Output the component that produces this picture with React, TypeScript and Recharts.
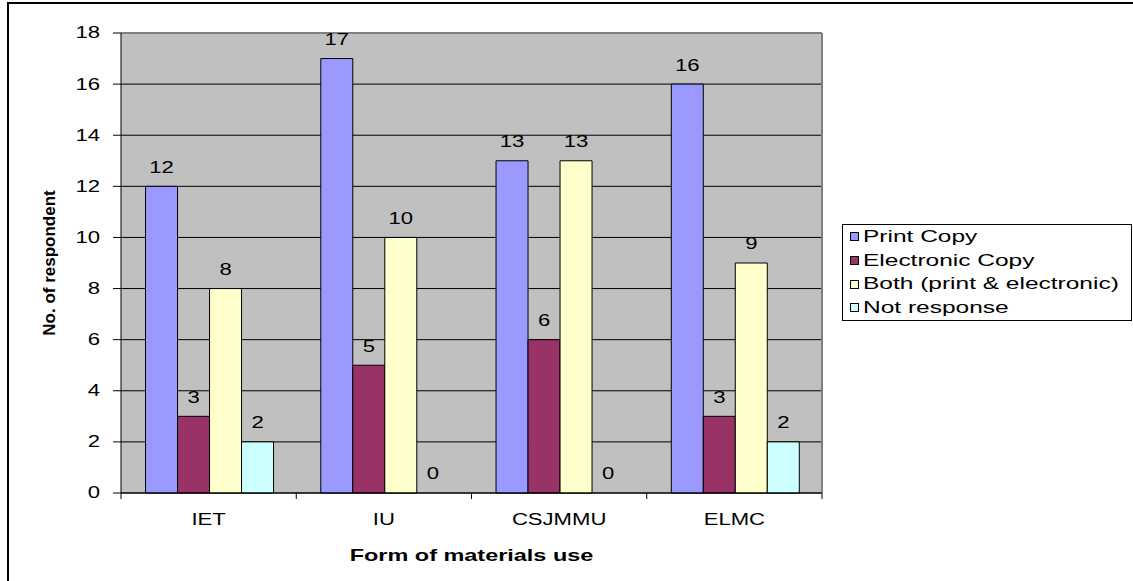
import React from 'react';
import { BarChart, Bar, XAxis, YAxis, CartesianGrid, LabelList, Cell } from 'recharts';

const categories = ['IET', 'IU', 'CSJMMU', 'ELMC'];
const printCopy = [12, 17, 13, 16];
const electronicCopy = [3, 5, 6, 3];
const bothCopy = [8, 10, 13, 9];
const notResponse = [2, 0, 0, 2];
const yTicks = [0, 2, 4, 6, 8, 10, 12, 14, 16, 18];
const seriesNames = ['Print Copy', 'Electronic Copy', 'Both (print & electronic)', 'Not response'];
const seriesKeys = ['print', 'electronic', 'both', 'none'];
const seriesValues = [printCopy, electronicCopy, bothCopy, notResponse];
const seriesColors = ['#9999FF', '#993366', '#FFFFCC', '#CCFFFF'];

const data = categories.map((c, i) => ({
  name: c,
  print: printCopy[i],
  electronic: electronicCopy[i],
  both: bothCopy[i],
  none: notResponse[i],
}));

const W = 1133;
const H = 581;
const M = { top: 33, right: 311, bottom: 28, left: 61 };
const YW = 60;
const XH = 60;
const PLOT_W = W - M.left - M.right - YW;
const FONT = '"Liberation Sans", Arial, sans-serif';
const SX = 1.38;

function StretchText({ x, y, anchor = 'middle', size = 15, bold = false, children }: any) {
  return (
    <g transform={`translate(${x},${y}) scale(${SX},1)`}>
      <text
        x={0}
        y={0}
        textAnchor={anchor}
        dominantBaseline="central"
        fontSize={size}
        fontFamily={FONT}
        fontWeight={bold ? 'bold' : 'normal'}
        fill="#000"
      >
        {children}
      </text>
    </g>
  );
}

function YTick(props: any) {
  const { x, y, payload } = props;
  return <StretchText x={x} y={y} anchor="end" size={16}>{payload.value}</StretchText>;
}

function XTick(props: any) {
  const { x, y, payload, index } = props;
  const band = PLOT_W / categories.length;
  const left = x - band / 2;
  const right = x + band / 2;
  return (
    <g>
      <line x1={left} y1={y} x2={left} y2={y + 6} stroke="#000" strokeWidth={1} />
      {index === categories.length - 1 && (
        <line x1={right} y1={y} x2={right} y2={y + 6} stroke="#000" strokeWidth={1} />
      )}
      <StretchText x={x} y={y + 27} size={16}>{payload.value}</StretchText>
    </g>
  );
}

function ValueLabel(props: any) {
  const { x, y, width, height, value } = props;
  const isZero = Number(value) === 0;
  const yy = isZero ? Number(y) + Number(height) : Number(y);
  return <StretchText x={Number(x) + Number(width) / 2} y={yy - 19} size={16}>{value}</StretchText>;
}

function YTitle(props: any) {
  const vb = props.viewBox || { x: M.left, y: M.top, width: YW, height: H - M.top - M.bottom - XH };
  const cx = vb.x - 12;
  const cy = vb.y + vb.height / 2;
  return (
    <text
      x={cx}
      y={cy}
      transform={`rotate(-90, ${cx}, ${cy})`}
      textAnchor="middle"
      dominantBaseline="central"
      fontSize={17}
      fontWeight="bold"
      fontFamily={FONT}
      fill="#000"
    >
      No. of respondent
    </text>
  );
}

function XTitle(props: any) {
  const vb = props.viewBox || { x: M.left + YW, y: H - M.bottom - XH, width: PLOT_W, height: XH };
  return (
    <StretchText x={vb.x + vb.width / 2} y={vb.y + 62} size={17} bold>
      Form of materials use
    </StretchText>
  );
}

function LegendBox() {
  return (
    <div
      style={{
        position: 'absolute',
        left: 842,
        top: 224,
        border: '1px solid #000',
        background: '#fff',
        width: 290,
        height: 97,
        boxSizing: 'border-box',
        fontFamily: FONT,
        fontSize: 17,
        color: '#000',
      }}
    >
      {seriesNames.map((n, i) => (
        <div key={n} style={{ height: 23.7, display: 'flex', alignItems: 'center', paddingLeft: 7 }}>
          <div
            style={{
              width: 9,
              height: 9,
              border: '1px solid #000',
              background: seriesColors[i],
              boxSizing: 'border-box',
              flex: 'none',
            }}
          />
          <span
            style={{
              display: 'inline-block',
              marginLeft: 4,
              transform: 'scaleX(1.44)',
              transformOrigin: 'left center',
              whiteSpace: 'nowrap',
              lineHeight: '23.7px',
            }}
          >
            {n}
          </span>
        </div>
      ))}
    </div>
  );
}

export default function App() {
  return (
    <div style={{ position: 'absolute', left: 0, top: 0, width: W, height: H, overflow: 'hidden', background: '#fff' }}>
      <div
        style={{
          position: 'absolute',
          left: 7,
          top: 2,
          width: 1200,
          height: 700,
          border: '2px solid #000',
          boxSizing: 'border-box',
        }}
      />
      <div style={{ position: 'absolute', left: 0, top: 0 }}>
        <BarChart width={W} height={H} data={data} margin={M} barCategoryGap="14%" barGap={0}>
          <CartesianGrid vertical={false} stroke="#000" fill="#C0C0C0" />
          <CartesianGrid
            stroke="#808080"
            strokeWidth={2}
            horizontalCoordinatesGenerator={({ offset }: any) => [offset.top]}
            verticalCoordinatesGenerator={({ offset }: any) => [offset.left + offset.width]}
          />
          <XAxis
            dataKey="name"
            height={XH}
            interval={0}
            tickLine={false}
            tickSize={0}
            tickMargin={0}
            axisLine={{ stroke: '#000' }}
            tick={XTick}
            label={<XTitle />}
          />
          <YAxis
            width={YW}
            domain={[0, 18]}
            ticks={yTicks}
            interval={0}
            tickSize={8}
            tickMargin={13}
            tickLine={{ stroke: '#000' }}
            axisLine={{ stroke: '#000' }}
            tick={YTick}
            label={<YTitle />}
          />
          {seriesKeys.map((k, i) => (
            <Bar
              key={k}
              dataKey={k}
              name={seriesNames[i]}
              fill={seriesColors[i]}
              stroke="#000"
              strokeWidth={1}
              minPointSize={1}
              isAnimationActive={false}
            >
              {seriesValues[i].map((v, j) => (
                <Cell
                  key={j}
                  fill={v === 0 ? 'none' : seriesColors[i]}
                  stroke={v === 0 ? 'none' : '#000'}
                />
              ))}
              <LabelList dataKey={k} content={<ValueLabel />} />
            </Bar>
          ))}
        </BarChart>
      </div>
      <LegendBox />
    </div>
  );
}
